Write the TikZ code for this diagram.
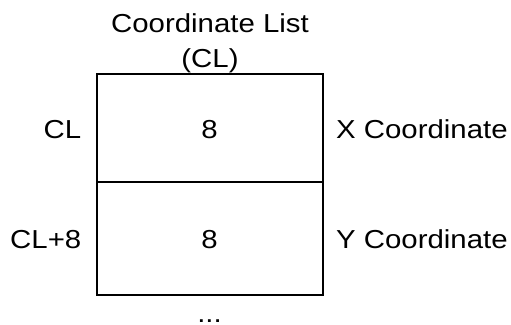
\documentclass[tikz,border=0pt]{standalone}
\usepackage{fontspec}
\setmainfont[FakeStretch=1.13]{Liberation Sans}
\begin{document}
\begin{tikzpicture}[x=1pt,y=-1pt,
  lbl/.style={anchor=base,inner sep=0pt,font=\fontsize{26}{30}\selectfont},
  cellbox/.style={draw,line width=1.3pt}]
\useasboundingbox (0,0) rectangle (511,324);
% memory cells
\draw[cellbox] (97,74) rectangle (323,295);
\draw[cellbox] (97,182) -- (323,182);
% title
\node[lbl] (title) at (210,32.7) {Coordinate List};
\node[lbl] (titlecl) at (210,67.5) {(CL)};
% addresses
\node[lbl,anchor=base east] (addr1) at (81.5,138) {CL};
\node[lbl,anchor=base east] (addr2) at (81.5,248) {CL+8};
% sizes
\node[lbl] (size1) at (209.5,138) {8};
\node[lbl] (size2) at (209.5,248) {8};
% field names
\node[lbl,anchor=base west] (field1) at (336,138) {X Coordinate};
\node[lbl,anchor=base west] (field2) at (336,248) {Y Coordinate};
% continuation
\node[lbl] (more) at (209.5,322.5) {...};
\end{tikzpicture}
\end{document}
